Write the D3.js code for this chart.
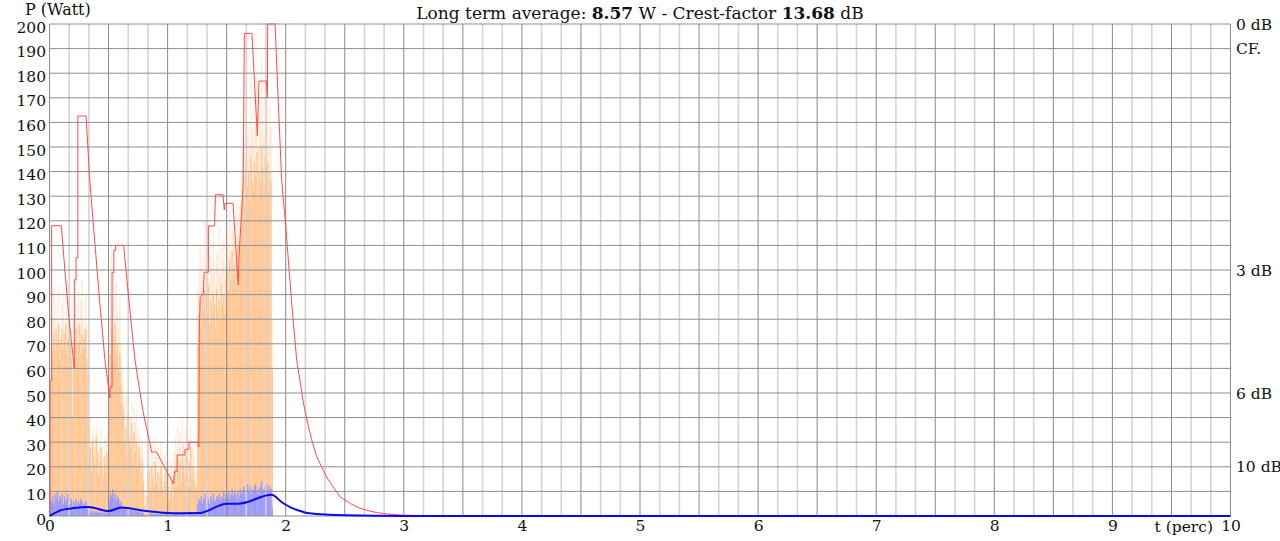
<!DOCTYPE html>
<html><head><meta charset="utf-8">
<script src="https://cdn.jsdelivr.net/npm/d3@7"></script>
<style>
html,body{margin:0;padding:0;background:#fff;}
svg text{font-family:"DejaVu Serif",serif;fill:#111;}
</style></head>
<body>
<svg id="chart" width="1280" height="541"></svg>
<script>
// ---------- DATA ----------
const titleParts = [["Long term average: ",false],["8.57",true],[" W - Crest-factor ",false],["13.68",true],[" dB",false]];
const yTicks = [0,10,20,30,40,50,60,70,80,90,100,110,120,130,140,150,160,170,180,190,200];
const xTicks = [0,1,2,3,4,5,6,7,8,9,10];
const dbLabels = [["0 dB",200],["3 dB",100],["6 dB",50],["10 dB",20]];
const barStep = 0.01; // bars every 0.01 t, starting at t = 0
// solid (dense) orange peak-power bars
const orangeSolid = [10,55,
 68,74,66,76,70,78,64,72,76,68,74,78,66,72,76,70,64,
 40,62,
 72,76,64,70,78,66,74,68,72,76,64,56,
 22,28,18,30,24,20,32,26,16,22,28,20,14,24,18,26,12,
 52,66,76,62,72,78,66,70,60,66,54,46,42,
 30,36,24,40,32,28,38,22,34,26,30,20,28,24,18,22,14,
 4,2,8,
 14,18,10,20,16,12,22,14,18,10,16,20,12,8,14,18,10,12,6,10,14,8,
 16,20,12,24,18,22,14,26,20,16,24,18,12,22,28,16,20,14,10,12,
 70,82,88,76,90,84,92,80,86,94,78,88,82,90,86,76,92,84,88,80,94,86,90,82,96,
 100,92,104,96,108,98,102,94,106,110,100,112,118,
 130,138,126,142,134,140,128,146,136,132,144,138,148,130,140,136,150,142,134,146,138,144,132,140,136,
 60];
// pale (sparse) orange spikes
const orangePale = [20,60,
 80,95,76,88,72,94,78,70,86,92,74,80,96,78,84,76,70,
 60,80,
 100,86,78,92,74,88,96,80,76,90,78,70,
 34,40,30,36,32,28,38,34,26,30,36,28,24,32,26,34,20,
 70,90,110,86,100,78,94,84,76,88,70,60,52,
 44,50,38,48,42,40,46,34,44,38,42,30,36,32,28,30,24,
 10,6,14,
 24,28,20,30,26,22,32,24,28,18,26,30,22,16,24,28,20,22,14,18,22,16,
 26,32,22,36,28,34,24,40,30,26,36,28,22,32,38,26,30,24,18,20,
 92,100,110,96,104,98,120,94,102,112,96,106,100,116,104,94,108,100,118,98,110,104,114,100,120,
 118,110,124,108,120,116,112,122,114,126,118,128,140,
 150,168,146,176,154,160,150,182,158,152,172,160,178,150,164,156,186,166,154,174,160,170,152,166,158,
 80];
// short-term RMS bars (light blue)
const blueBars = [2,
 6,8,5,9,7,10,6,8,7,9,5,8,6,7,9,6,5,7,
 4,6,5,7,4,6,5,7,6,4,5,6,4,3,
 2,1.5,2.5,1,2,1.5,2,1,1.5,2,1,1.5,1,2,1,1.5,1,
 6,9,8,11,7,9,6,8,7,5,6,4,3,
 3,2.5,3,2,3.5,2,2.5,3,2,2.5,1.5,2,1.5,2,1,1.5,1,
 0.3,0.2,0.4,
 0.8,1,0.6,1.2,0.9,0.7,1.1,0.8,1,0.6,0.9,1.1,0.7,0.5,0.8,1,0.6,0.7,0.4,0.6,0.8,0.5,
 0.9,1.2,0.7,1.4,1,1.2,0.8,1.5,1.1,0.9,1.3,1,0.7,1.2,1.5,0.9,1.1,0.8,0.6,0.7,
 5,7,6,8,5,7,9,6,8,7,5,8,6,9,7,6,8,7,9,6,8,7,10,7,9,
 8,10,7,9,11,8,10,9,7,10,8,11,9,
 10,12,9,11,13,10,12,9,11,10,12,13,10,11,9,12,14,11,10,12,11,13,10,12,11,
 3];
// peak-hold envelope (red)
const peakT = [0,0.005,0.005,0.018,0.018,0.1,0.13,0.17,0.21,0.21,0.225,0.225,0.24,0.24,0.31,0.34,0.42,0.47,0.512,
 0.512,0.53,0.53,0.545,0.545,0.56,0.56,0.628,0.68,0.724,0.79,0.865,0.907,1.05,
 1.058,1.08,1.08,1.147,1.147,1.181,1.181,1.255,1.265,1.268,1.276,1.302,1.31,1.345,1.345,1.398,1.405,1.469,1.48,1.486,1.554,1.598,
 1.607,1.627,1.64,1.65,1.714,1.76,1.774,1.836,1.845,1.848,1.91,1.94,1.966,2.0,2.05,2.093,2.12,2.15,2.18,2.22,2.26,2.29,2.35,2.4,2.46,2.55,2.63,2.7,2.77,2.85,2.97,3.1,3.3,3.6];
const peakW = [0,0,55,55,118,118,100,78,60,96,96,105,105,162.6,162.6,137,90,63,48,
 52.5,52.5,99,99,108,108,110,110,84,63.4,43,26,26,13,
 18,18,24.8,24.8,27.1,27.1,30,30,28,73.6,88.9,90.2,99.1,99.1,117.9,117.9,130.6,130.6,124.4,127.1,127.1,93.9,
 107.7,123.4,135.2,196.2,196.2,154.5,176.8,176.8,170,200,200,165,136.6,118,87,63.4,55.3,46,39,31,24.5,21.4,15.5,12,7.8,5,3.1,2.2,1.4,0.9,0.4,0.2,0.05,0];
// long-term average (dark blue)
const avgT = [0,0.1,0.19,0.33,0.5,0.61,0.82,1.05,1.27,1.5,1.6,1.88,1.97,2.06,2.1,2.2,2.5,3.0,10];
const avgW = [0,2.4,3.1,3.7,2.0,3.5,2.0,1.1,1.2,5.0,5.0,8.6,5.5,3.1,2.4,1.1,0.3,0.05,0];

// ---------- CHART ----------
const svg = d3.select("#chart");
const x = d3.scaleLinear().domain([0,10]).range([49.5,1230.5]);
const y = d3.scaleLinear().domain([0,200]).range([516,24]);
const bw = x(barStep)-x(0);

const bars = svg.append("g");
bars.selectAll("rect.pale").data(orangePale).join("rect")
  .attr("x",(d,i)=>x(i*barStep)).attr("width",bw+0.2)
  .attr("y",d=>y(d)).attr("height",d=>y(0)-y(d))
  .attr("fill","#ffc896").attr("opacity",0.35);
bars.selectAll("rect.solid").data(orangeSolid).join("rect")
  .attr("x",(d,i)=>x(i*barStep)).attr("width",bw+0.2)
  .attr("y",d=>y(d)).attr("height",d=>y(0)-y(d))
  .attr("fill","#ffc896");
bars.selectAll("rect.blue").data(blueBars).join("rect")
  .attr("x",(d,i)=>x(i*barStep)).attr("width",bw+0.2)
  .attr("y",d=>y(d)).attr("height",d=>y(0)-y(d))
  .attr("fill","#9a9aff");

// grid
const grid = svg.append("g");
const minorX = d3.range(0,61).map(k=>k/6);
grid.selectAll("line.mx").data(minorX.filter((d,k)=>k%3!==0)).join("line")
  .attr("x1",d=>x(d)).attr("x2",d=>x(d)).attr("y1",y(200)).attr("y2",y(0))
  .attr("stroke","#d4d4d4").attr("stroke-width",1.6);
grid.selectAll("line.hy").data(yTicks).join("line")
  .attr("x1",x(0)).attr("x2",x(10)).attr("y1",d=>y(d)).attr("y2",d=>y(d))
  .attr("stroke","#8e8e8e").attr("stroke-width",1);
grid.selectAll("line.Mx").data(d3.range(0,21).map(k=>k/2)).join("line")
  .attr("x1",d=>x(d)).attr("x2",d=>x(d)).attr("y1",y(200)).attr("y2",y(0))
  .attr("stroke","#8a8a8a").attr("stroke-width",1);

// lines
svg.append("path").datum(peakT.map((t,i)=>[t,peakW[i]]))
  .attr("d",d3.line().x(d=>x(d[0])).y(d=>y(d[1])))
  .attr("fill","none").attr("stroke","#ff4a4a").attr("stroke-width",1);
svg.append("path").datum(avgT.map((t,i)=>[t,avgW[i]]))
  .attr("d",d3.line().x(d=>x(d[0])).y(d=>y(d[1])).curve(d3.curveMonotoneX))
  .attr("fill","none").attr("stroke","#0a0af0").attr("stroke-width",2);

// y axis labels
const yAxis = svg.append("g").attr("transform","translate(46,0)")
  .call(d3.axisLeft(y).tickValues(yTicks).tickSize(0).tickPadding(0));
yAxis.select(".domain").remove();
yAxis.selectAll("text").attr("font-family","DejaVu Serif").attr("font-size",15.5)
  .attr("fill","#111").attr("dy","0.52em");

// x axis labels
const xAxis = svg.append("g").attr("transform","translate(0,519)")
  .call(d3.axisBottom(x).tickValues(xTicks).tickSize(0).tickPadding(0).tickFormat(d3.format("d")));
xAxis.select(".domain").remove();
xAxis.selectAll("text").attr("font-family","DejaVu Serif").attr("font-size",15.5)
  .attr("fill","#111").attr("dy","0.8em");

svg.append("text").attr("x",25).attr("y",15).attr("font-size",16).text("P (Watt)");
svg.append("text").attr("x",1213).attr("y",532).attr("text-anchor","end").attr("font-size",15.5).text("t (perc)");

// right dB labels
svg.selectAll("text.db").data(dbLabels).join("text").attr("class","db")
  .attr("x",1236).attr("y",d=>y(d[1])+5.5).attr("font-size",15.5).text(d=>d[0]);
svg.append("text").attr("x",1236).attr("y",54).attr("font-size",15.5).text("CF.");

// title
const title = svg.append("text").attr("x",640).attr("y",19).attr("text-anchor","middle").attr("font-size",17);
titleParts.forEach(p=>title.append("tspan").attr("font-weight",p[1]?"bold":"normal").text(p[0]));
</script>
</body></html>
